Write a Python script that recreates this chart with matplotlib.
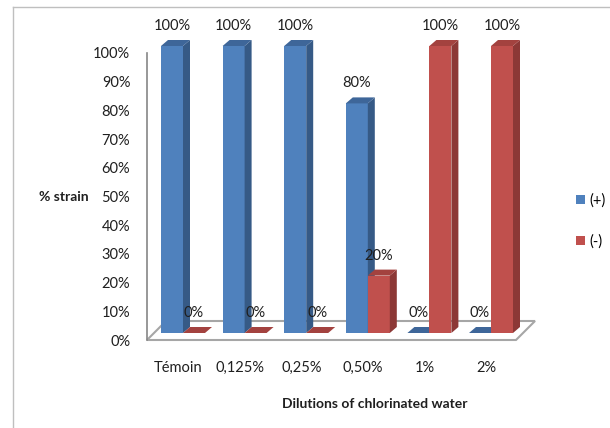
import matplotlib
matplotlib.use("Agg")
import matplotlib.pyplot as plt
from matplotlib.patches import Polygon, Patch
from matplotlib.lines import Line2D

plt.rcParams['font.family'] = ['Lato', 'DejaVu Sans']

categories = ["Témoin", "0,125%", "0,25%", "0,50%", "1%", "2%"]
plus_vals = [100, 100, 100, 80, 0, 0]
minus_vals = [0, 0, 0, 20, 100, 100]
series_names = ["(+)", "(-)"]
yticks = [0, 10, 20, 30, 40, 50, 60, 70, 80, 90, 100]

# colours: front face, top face, side face
blue = ("#4F81BD", "#3E6699", "#365A86")
red = ("#C0504D", "#A3423F", "#8C3836")
txt = "#1f1f1f"

W, H = 610, 428
fig = plt.figure(figsize=(W / 100, H / 100), dpi=100)

# one category step = 61.6 px, 100% = 287 px
PX = 1 / 61.6
PY = 1 / 287.0
x_left, x_right = (147 - 183) * PX, (540 - 183) * PX
ax = fig.add_axes([147 / W, (H - 340) / H, (540 - 147) / W, 287 / H])
ax.set_xlim(x_left, x_right)
ax.set_ylim(0, 1)

# floor of the 3d box
fdx, fdy = 19 * PX, 19 * PY
fx0, fx1 = x_left, (516 - 183) * PX
floor = Polygon([(fx0, 0), (fx1, 0), (fx1 + fdx, fdy), (fx0 + fdx, fdy)],
                closed=True, facecolor="white", edgecolor="#A6A6A6",
                lw=1.5, clip_on=False, zorder=1)
ax.add_patch(floor)

bw = 22 * PX
base = 7 * PY
ddx, ddy = 7 * PX, 6 * PY


def bar3d(x0, val, cols):
    h = val / 100.0
    top = base + h
    if h > 0:
        ax.add_patch(Polygon([(x0, base), (x0 + bw, base), (x0 + bw, top), (x0, top)],
                             closed=True, facecolor=cols[0], lw=0, clip_on=False, zorder=2))
        ax.add_patch(Polygon([(x0 + bw, base), (x0 + bw + ddx, base + ddy),
                              (x0 + bw + ddx, top + ddy), (x0 + bw, top)],
                             closed=True, facecolor=cols[2], lw=0, clip_on=False, zorder=2))
    ax.add_patch(Polygon([(x0, top), (x0 + bw, top), (x0 + bw + ddx, top + ddy), (x0 + ddx, top + ddy)],
                         closed=True, facecolor=cols[1], lw=0, clip_on=False, zorder=2))
    ax.text(x0 + bw / 2, top + 13 * PY, f"{val}%", ha="center", va="bottom",
            fontsize=10.5, color=txt, zorder=5, clip_on=False)


for i in range(len(categories)):
    bar3d(i - bw, plus_vals[i], blue)
    bar3d(i, minus_vals[i], red)

# axes styling
for s in ["top", "right", "bottom"]:
    ax.spines[s].set_visible(False)
ax.spines["left"].set_color("#868686")
ax.spines["left"].set_linewidth(1.2)
ax.set_yticks([v / 100 for v in yticks])
ax.set_yticklabels([f"{v}%" for v in yticks], fontsize=10.5, color=txt)
ax.tick_params(axis="y", length=0, pad=12)
ax.set_xticks([i - 0.08 for i in range(len(categories))])
ax.set_xticklabels(categories, fontsize=10.5, color=txt)
ax.tick_params(axis="x", length=0, pad=15)

fig.text(64 / W, 1 - 197 / H, "% strain", ha="center", va="center",
         fontsize=10, fontweight="bold", color=txt)
fig.text(375 / W, 1 - 404 / H, "Dilutions of chlorinated water", ha="center",
         va="center", fontsize=10, fontweight="bold", color=txt)

handles = [Patch(facecolor=blue[0]), Patch(facecolor=red[0])]
fig.legend(handles, series_names, loc="center left",
           bbox_to_anchor=(563 / W, 1 - 221 / H), frameon=False, fontsize=10.5,
           handlelength=0.6, handleheight=0.6, handletextpad=0.3, labelspacing=1.8)

# outer chart border
fig.add_artist(Line2D([13 / W, 1], [1 - 7 / H, 1 - 7 / H], color="#BFBFBF", lw=1))
fig.add_artist(Line2D([13 / W, 13 / W], [0, 1 - 7 / H], color="#BFBFBF", lw=1))

fig.savefig("out.png", dpi=100)
